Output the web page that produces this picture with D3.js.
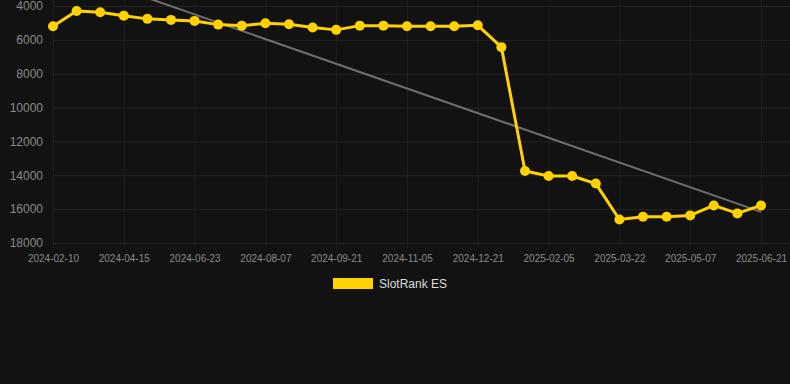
<!DOCTYPE html>
<html>
<head>
<meta charset="utf-8">
<script src="https://cdn.jsdelivr.net/npm/d3@7"></script>
<style>
  html, body { margin: 0; padding: 0; background: #121212; }
  svg { display: block; }
</style>
</head>
<body>
<script>

// dates of each rank sample (every third one is labelled)
var dates = ["2024-02-10", "2024-03-06", "2024-03-27", "2024-04-15", "2024-05-08", "2024-05-31",
             "2024-06-23", "2024-07-08", "2024-07-23", "2024-08-07", "2024-08-22", "2024-09-06",
             "2024-09-21", "2024-10-06", "2024-10-21", "2024-11-05", "2024-11-20", "2024-12-06",
             "2024-12-21", "2025-01-05", "2025-01-21", "2025-02-05", "2025-02-20", "2025-03-07",
             "2025-03-22", "2025-04-06", "2025-04-22", "2025-05-07", "2025-05-22", "2025-06-06",
             "2025-06-21"];

// SlotRank ES values
var ranks = [5200, 4300, 4370, 4570, 4760, 4820, 4880, 5100, 5160, 5020, 5080, 5270, 5410, 5160,
             5160, 5200, 5200, 5200, 5140, 6430, 13750, 14040, 14040, 14490, 16610, 16450, 16450,
             16370, 15780, 16250, 15780];

// trend line end values (first and last date)
var trend = [1580, 16160];

var yTicks = [4000, 6000, 8000, 10000, 12000, 14000, 16000, 18000];

function draw() {

    var width = 790, height = 384;

    var svg = d3.select("body")
        .append("svg")
        .attr("width", width)
        .attr("height", height);

    // point scale over the sample dates
    var x_scale = d3.scalePoint()
        .domain(dates)
        .range([53, 761]);

    // rank axis is reversed: low rank at the top
    var y_scale = d3.scaleLinear()
        .domain([4000, 18000])
        .range([6, 243]);

    var labelled = dates.filter(function(d, i) { return i % 3 == 0; });

    // horizontal grid
    svg.append("g")
        .selectAll("line")
        .data(yTicks)
        .enter()
        .append("line")
        .attr("x1", 53)
        .attr("x2", 790)
        .attr("y1", function(d) { return y_scale(d) + 0.5; })
        .attr("y2", function(d) { return y_scale(d) + 0.5; })
        .attr("stroke", "#242424")
        .attr("stroke-width", 1);

    // vertical grid
    svg.append("g")
        .selectAll("line")
        .data(labelled)
        .enter()
        .append("line")
        .attr("x1", function(d) { return x_scale(d) + 0.5; })
        .attr("x2", function(d) { return x_scale(d) + 0.5; })
        .attr("y1", 0)
        .attr("y2", 248)
        .attr("stroke", "#1f1f1f")
        .attr("stroke-width", 1);

    // y axis labels
    var y_axis = d3.axisLeft(y_scale)
        .tickValues(yTicks)
        .tickSize(0)
        .tickPadding(0)
        .tickFormat(d3.format("d"));

    var gy = svg.append("g")
        .attr("transform", "translate(43,0)")
        .call(y_axis);
    gy.select(".domain").remove();
    gy.selectAll("text")
        .attr("fill", "#8a8a8a")
        .attr("font-family", "Liberation Sans, Arial, sans-serif")
        .attr("font-size", "12px");

    // x axis labels
    var x_axis = d3.axisBottom(x_scale)
        .tickValues(labelled)
        .tickSize(0)
        .tickPadding(0);

    var gx = svg.append("g")
        .attr("transform", "translate(0,255)")
        .call(x_axis);
    gx.select(".domain").remove();
    gx.selectAll("text")
        .attr("fill", "#8a8a8a")
        .attr("font-family", "Liberation Sans, Arial, sans-serif")
        .attr("font-size", "10px");

    // trend line
    svg.append("line")
        .attr("x1", x_scale(dates[0]))
        .attr("y1", y_scale(trend[0]))
        .attr("x2", x_scale(dates[dates.length - 1]))
        .attr("y2", y_scale(trend[1]))
        .attr("stroke", "#6e6e6e")
        .attr("stroke-width", 2);

    // rank line
    var line = d3.line()
        .x(function(d, i) { return x_scale(dates[i]); })
        .y(function(d) { return y_scale(d); });

    svg.append("path")
        .datum(ranks)
        .attr("d", line)
        .attr("fill", "none")
        .attr("stroke", "#ffd200")
        .attr("stroke-width", 3)
        .attr("stroke-linejoin", "round");

    svg.selectAll("circle")
        .data(ranks)
        .enter()
        .append("circle")
        .attr("cx", function(d, i) { return x_scale(dates[i]); })
        .attr("cy", function(d) { return y_scale(d); })
        .attr("r", 5)
        .attr("fill", "#ffd200");

    // legend
    svg.append("rect")
        .attr("x", 333)
        .attr("y", 278)
        .attr("width", 40)
        .attr("height", 11)
        .attr("fill", "#ffd200");

    svg.append("text")
        .attr("x", 379)
        .attr("y", 288)
        .attr("fill", "#dddddd")
        .attr("font-family", "Liberation Sans, Arial, sans-serif")
        .attr("font-size", "12px")
        .text("SlotRank ES");

}

draw();

</script>
</body>
</html>
